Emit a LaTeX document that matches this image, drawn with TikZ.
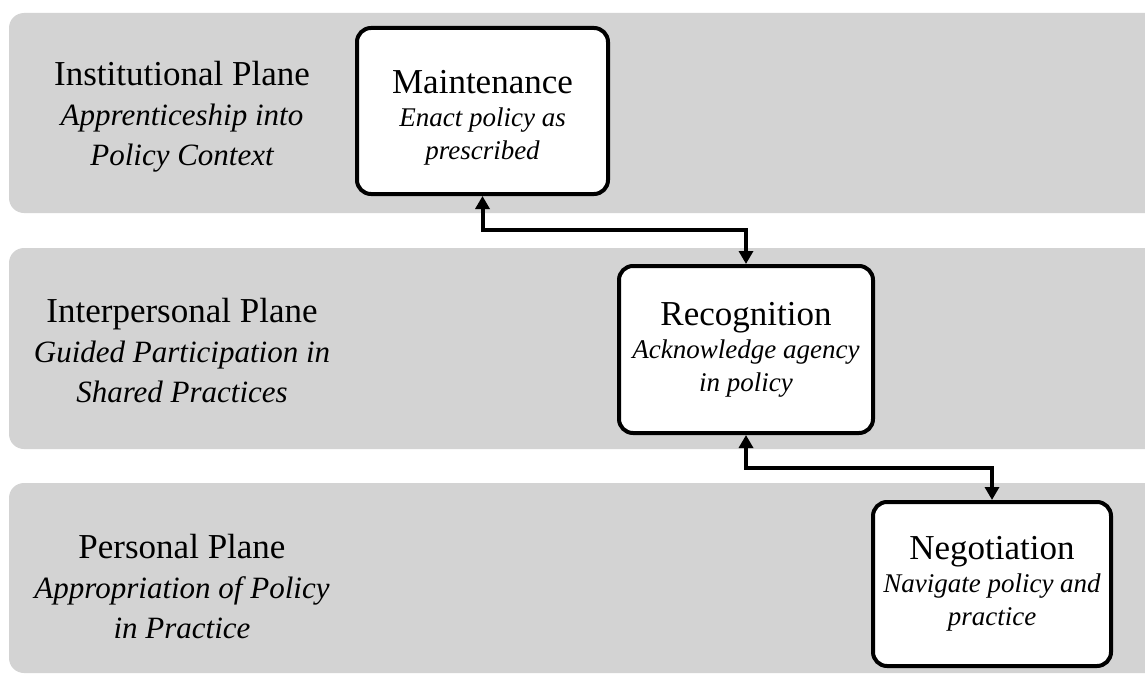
\documentclass[tikz,border=0pt]{standalone}
\usepackage{fontspec}
\setmainfont{Liberation Serif}
\usetikzlibrary{arrows.meta}
\definecolor{bandgray}{HTML}{D3D3D3}
\tikzset{
  band/.style={fill=bandgray, draw=none, rounded corners=15pt},
  stagebox/.style={draw=black, fill=white, line width=4pt, rounded corners=14pt, inner sep=0pt, align=center, font=\fontsize{27}{33}\selectfont},
  planelabel/.style={align=center, inner sep=0pt, font=\fontsize{31}{40}\selectfont},
  link/.style={line width=4pt, {Triangle[width=14pt,length=13pt]}-{Triangle[width=14pt,length=13pt]}},
}
\newcommand{\ttl}[1]{{\fontsize{35}{33}\selectfont #1}}
\newcommand{\sbt}[1]{{\itshape #1}}
\newcommand{\lttl}[1]{{\fontsize{35}{40}\selectfont #1}}
\newcommand{\lsbt}[1]{{\itshape #1}}
\begin{document}
\begin{tikzpicture}[x=1pt,y=-1pt]
\useasboundingbox (0,0) rectangle (1145,677);
\clip (0,0) rectangle (1145,677);
% bands
\fill[band] (9,13) rectangle (1170,213);
\fill[band] (9,248) rectangle (1170,449);
\fill[band] (9,483) rectangle (1170,673);
% plane labels
\node[planelabel] (inst) at (182,117) {\lttl{Institutional Plane}\\\lsbt{Apprenticeship into}\\\lsbt{Policy Context}};
\node[planelabel] (inter) at (182,351) {\lttl{Interpersonal Plane}\\\lsbt{Guided Participation in}\\\lsbt{Shared Practices}};
\node[planelabel] (pers) at (182,587) {\lttl{Personal Plane}\\\lsbt{Appropriation of Policy}\\\lsbt{in Practice}};
% stage boxes
\node[stagebox, minimum width=251pt, minimum height=166pt] (m) at (482.5,111) {\rule{0pt}{36pt}\ttl{Maintenance}\\\sbt{Enact policy as}\\\sbt{prescribed}};
\node[stagebox, minimum width=254pt, minimum height=167pt] (r) at (746,349.5) {\ttl{Recognition}\\\sbt{Acknowledge agency}\\\sbt{in policy}};
\node[stagebox, minimum width=238pt, minimum height=164pt] (n) at (992,584) {\ttl{Negotiation}\\\sbt{Navigate policy and}\\\sbt{practice}};
% connectors
\coordinate (c1) at (482.5,230);
\coordinate (c2) at (746,468);
\draw[link] (m.south) -- (m.south |- c1) -| (r.north);
\draw[link] (r.south) -- (r.south |- c2) -| (n.north);
\end{tikzpicture}
\end{document}
